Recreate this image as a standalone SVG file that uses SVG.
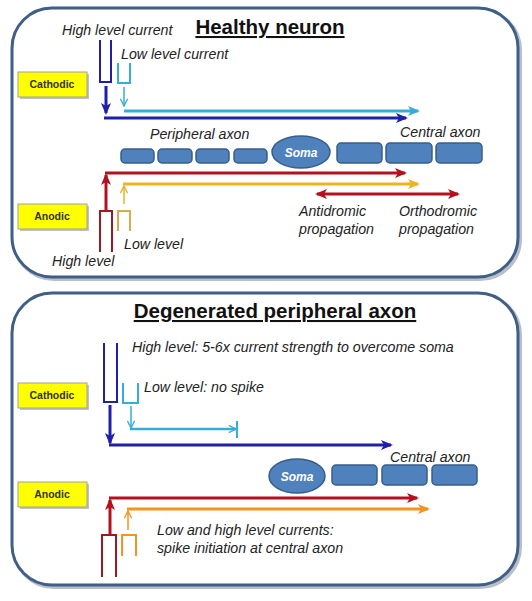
<svg xmlns="http://www.w3.org/2000/svg" width="532" height="601" viewBox="0 0 532 601">
<style>
.panel{fill:#ffffff;stroke:#3f5f86;stroke-width:3}
.pshadow{fill:none;stroke:#b8bfc8;stroke-width:4}
.title{font-family:"Liberation Sans",Arial,sans-serif;font-weight:bold;font-size:20.5px;fill:#111;text-decoration:underline}
.lbl{font-family:"Liberation Sans",Arial,sans-serif;font-style:italic;font-size:14.2px;fill:#222}
.tag{fill:#ffff00;stroke:#a0a0a0;stroke-width:1}
.tagsh{fill:#9a9a9a;opacity:0.6}
.tagt{font-family:"Liberation Sans",Arial,sans-serif;font-weight:bold;font-size:10.5px;fill:#333;text-anchor:middle}
.seg{fill:#4f81bd;stroke:#385d8a;stroke-width:1.5}
.somat{font-family:"Liberation Sans",Arial,sans-serif;font-weight:bold;font-style:italic;font-size:12px;fill:#fff;text-anchor:middle}
.blue{stroke:#1f1fa8;fill:none}
.cyan{stroke:#34aed6;fill:none}
.red{stroke:#b3111e;fill:none}
.dred{stroke:#9b1b22;fill:none}
.gold{stroke:#f0b21e;fill:none}
.lgold{stroke:#d9ab4c;fill:none}
.orange{stroke:#f39320;fill:none}
</style>
<defs>
<marker id="mBlue" viewBox="0 0 12 10" refX="10" refY="5" markerWidth="12" markerHeight="10" markerUnits="userSpaceOnUse" orient="auto-start-reverse"><path d="M0,0 L12,5 L0,10 L3,5 z" fill="#1f1fa8"/></marker>
<marker id="mCyan" viewBox="0 0 12 10" refX="10" refY="5" markerWidth="12" markerHeight="10" markerUnits="userSpaceOnUse" orient="auto-start-reverse"><path d="M0,0 L12,5 L0,10 L3,5 z" fill="#34aed6"/></marker>
<marker id="mCyanOpen" viewBox="0 0 10 10" refX="9" refY="5" markerWidth="9" markerHeight="9" markerUnits="userSpaceOnUse" orient="auto"><path d="M1,1 L9,5 L1,9" fill="none" stroke="#34aed6" stroke-width="1.5"/></marker>
<marker id="mRed" viewBox="0 0 12 10" refX="10" refY="5" markerWidth="12" markerHeight="10" markerUnits="userSpaceOnUse" orient="auto-start-reverse"><path d="M0,0 L12,5 L0,10 L3,5 z" fill="#b3111e"/></marker>
<marker id="mGold" viewBox="0 0 12 10" refX="10" refY="5" markerWidth="12" markerHeight="10" markerUnits="userSpaceOnUse" orient="auto-start-reverse"><path d="M0,0 L12,5 L0,10 L3,5 z" fill="#f0b21e"/></marker>
<marker id="mGoldOpen" viewBox="0 0 10 10" refX="9" refY="5" markerWidth="9" markerHeight="9" markerUnits="userSpaceOnUse" orient="auto"><path d="M1,1 L9,5 L1,9" fill="none" stroke="#e2ad3c" stroke-width="1.5"/></marker>
<marker id="mOrange" viewBox="0 0 12 10" refX="10" refY="5" markerWidth="12" markerHeight="10" markerUnits="userSpaceOnUse" orient="auto-start-reverse"><path d="M0,0 L12,5 L0,10 L3,5 z" fill="#f39320"/></marker>
<marker id="mOrangeOpen" viewBox="0 0 10 10" refX="9" refY="5" markerWidth="9" markerHeight="9" markerUnits="userSpaceOnUse" orient="auto"><path d="M1,1 L9,5 L1,9" fill="none" stroke="#f39320" stroke-width="1.5"/></marker>
</defs>

<!-- Panels -->
<g id="panel-healthy">
<rect class="pshadow" x="14" y="10" width="506" height="269" rx="40"/>
<rect class="panel" x="12" y="8" width="506" height="269" rx="40"/>
<text class="title" x="270" y="34" text-anchor="middle">Healthy neuron</text>
</g>
<g id="panel-degenerated">
<rect class="pshadow" x="14" y="295" width="506" height="292" rx="40"/>
<rect class="panel" x="12" y="293" width="506" height="292" rx="40"/>
<text class="title" x="275" y="318" text-anchor="middle">Degenerated peripheral axon</text>
</g>

<!-- Top panel nodes -->
<g id="cathodic-top">
<rect class="tagsh" x="20" y="74" width="69" height="25"/>
<rect class="tag" x="18" y="72" width="69" height="25"/>
<text class="tagt" x="52" y="88">Cathodic</text>
</g>
<g id="anodic-top">
<rect class="tagsh" x="20" y="206" width="69" height="25"/>
<rect class="tag" x="18" y="204" width="69" height="25"/>
<text class="tagt" x="52" y="220">Anodic</text>
</g>
<g id="peripheral-axon-top">
<rect class="seg" x="121" y="149" width="33" height="14" rx="4"/>
<rect class="seg" x="158" y="149" width="34" height="14" rx="4"/>
<rect class="seg" x="196" y="149" width="33" height="14" rx="4"/>
<rect class="seg" x="234" y="149" width="33" height="14" rx="4"/>
<text class="lbl" x="150" y="139">Peripheral axon</text>
</g>
<g id="soma-top">
<ellipse class="seg" cx="301" cy="152" rx="29" ry="16"/>
<text class="somat" x="301" y="157">Soma</text>
</g>
<g id="central-axon-top">
<rect class="seg" x="337" y="143" width="45" height="20" rx="4"/>
<rect class="seg" x="386" y="143" width="46" height="20" rx="4"/>
<rect class="seg" x="436" y="143" width="46" height="20" rx="4"/>
<text class="lbl" x="400" y="137">Central axon</text>
</g>
<g id="texts-top">
<text class="lbl" x="62" y="35">High level current</text>
<text class="lbl" x="121" y="59">Low level current</text>
<text class="lbl" x="124" y="249">Low level</text>
<text class="lbl" x="52" y="266">High level</text>
<text class="lbl" x="299" y="216">Antidromic</text>
<text class="lbl" x="299" y="234">propagation</text>
<text class="lbl" x="399" y="216">Orthodromic</text>
<text class="lbl" x="399" y="234">propagation</text>
</g>

<!-- Bottom panel nodes -->
<g id="cathodic-bottom">
<rect class="tagsh" x="20" y="385" width="69" height="25"/>
<rect class="tag" x="18" y="383" width="69" height="25"/>
<text class="tagt" x="52" y="399">Cathodic</text>
</g>
<g id="anodic-bottom">
<rect class="tagsh" x="20" y="484" width="69" height="25"/>
<rect class="tag" x="18" y="482" width="69" height="25"/>
<text class="tagt" x="52" y="498">Anodic</text>
</g>
<g id="soma-bottom">
<ellipse class="seg" cx="297" cy="476" rx="28" ry="17"/>
<text class="somat" x="297" y="481">Soma</text>
</g>
<g id="central-axon-bottom">
<rect class="seg" x="332" y="465" width="45" height="20" rx="4"/>
<rect class="seg" x="382" y="465" width="45" height="20" rx="4"/>
<rect class="seg" x="432" y="465" width="45" height="20" rx="4"/>
<text class="lbl" x="390" y="462">Central axon</text>
</g>
<g id="texts-bottom">
<text class="lbl" x="132" y="352">High level: 5-6x current strength to overcome soma</text>
<text class="lbl" x="144" y="392">Low level: no spike</text>
<text class="lbl" x="157" y="535">Low and high level currents:</text>
<text class="lbl" x="157" y="553">spike initiation at central axon</text>
</g>

<!-- Connectors -->
<g id="connectors">
<!-- top cathodic -->
<path class="blue" stroke-width="2" d="M100,40 V82 H111 V40"/>
<path class="cyan" stroke-width="2" d="M118,63 V83 H130 V63"/>
<line class="blue" stroke-width="3" x1="106" y1="86" x2="106" y2="113" marker-end="url(#mBlue)"/>
<line class="cyan" stroke-width="1.5" x1="124" y1="87" x2="124" y2="106" marker-end="url(#mCyanOpen)"/>
<line class="cyan" stroke-width="3" x1="124" y1="111" x2="418" y2="111" marker-end="url(#mCyan)"/>
<line class="blue" stroke-width="3" x1="104" y1="118" x2="406" y2="118" marker-end="url(#mBlue)"/>
<!-- top anodic -->
<path class="dred" stroke-width="2" d="M100,252 V211 H112 V252"/>
<path class="lgold" stroke-width="2" d="M118,231 V211 H130 V231"/>
<line class="red" stroke-width="3" x1="106" y1="210" x2="106" y2="175" marker-end="url(#mRed)"/>
<line class="gold" stroke-width="1.5" x1="124" y1="204" x2="124" y2="186" marker-end="url(#mGoldOpen)"/>
<line class="red" stroke-width="3" x1="105" y1="173" x2="405" y2="173" marker-end="url(#mRed)"/>
<line class="gold" stroke-width="3" x1="123" y1="184" x2="418" y2="184" marker-end="url(#mGold)"/>
<line class="red" stroke-width="3" x1="317" y1="194" x2="458" y2="194" marker-start="url(#mRed)" marker-end="url(#mRed)"/>
<!-- bottom cathodic -->
<path class="blue" stroke-width="2" d="M104,343 V402 H117 V343"/>
<path class="cyan" stroke-width="2" d="M123,383 V403 H138 V383"/>
<line class="blue" stroke-width="3" x1="110" y1="405" x2="110" y2="443" marker-end="url(#mBlue)"/>
<line class="cyan" stroke-width="1.5" x1="131" y1="406" x2="131" y2="428" marker-end="url(#mCyanOpen)"/>
<line class="cyan" stroke-width="2.5" x1="130" y1="429" x2="236" y2="429" marker-end="url(#mCyanOpen)"/>
<line class="cyan" stroke-width="2" x1="237" y1="421" x2="237" y2="438"/>
<line class="blue" stroke-width="3" x1="109" y1="445" x2="391" y2="445" marker-end="url(#mBlue)"/>
<!-- bottom anodic -->
<path class="dred" stroke-width="2" d="M102,577 V535 H116 V577"/>
<path class="orange" stroke-width="2" d="M122,556 V535 H136 V556"/>
<line class="red" stroke-width="3" x1="110" y1="534" x2="110" y2="500" marker-end="url(#mRed)"/>
<line class="orange" stroke-width="1.5" x1="128" y1="530" x2="128" y2="511" marker-end="url(#mOrangeOpen)"/>
<line class="red" stroke-width="3" x1="109" y1="498" x2="417" y2="498" marker-end="url(#mRed)"/>
<line class="orange" stroke-width="3" x1="127" y1="509" x2="428" y2="509" marker-end="url(#mOrange)"/>
</g>
</svg>
